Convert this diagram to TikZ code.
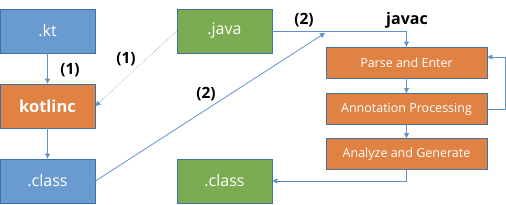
\documentclass[tikz,border=0pt]{standalone}
\usepackage{fontspec}
\setmainfont{Open Sans}
\usetikzlibrary{arrows.meta,calc}
\definecolor{bblue}{RGB}{106,155,208}
\definecolor{bgreen}{RGB}{124,172,82}
\definecolor{borange}{RGB}{224,130,68}
\definecolor{bline}{RGB}{65,113,156}
\definecolor{conn}{RGB}{98,146,206}
\begin{document}
\begin{tikzpicture}[x=1pt,y=-1pt,
  box/.style={draw=bline,line width=0.9pt,text=white,minimum width=95pt,minimum height=44pt,inner sep=0pt,font=\fontsize{16}{18}\selectfont},
  bluebox/.style={box,fill=bblue},
  greenbox/.style={box,fill=bgreen},
  stepbox/.style={draw=bline,line width=0.9pt,fill=borange,text=white,minimum width=161pt,minimum height=31pt,inner sep=0pt,font=\fontsize{12.5}{14}\selectfont},
  conn/.style={draw=conn,line width=0.8pt,-{Triangle[length=5pt,width=5pt]}},
  lbl/.style={font=\fontsize{15.5}{17}\selectfont\bfseries,text=black}
]
\useasboundingbox (0,0) rectangle (506,204);
\node[bluebox] (kt) at (47.5,31) {.kt};
\node[box,fill=borange,font=\fontsize{16.5}{18}\selectfont\bfseries] (kotlinc) at (47.5,106) {kotlinc};
\node[bluebox] (classL) at (47.5,181) {.class};
\node[greenbox] (java) at (224.5,31) {.java};
\node[greenbox] (classR) at (224.5,181) {.class};
\node[stepbox] (parse) at (406.5,62.5) {Parse and Enter};
\node[stepbox] (annot) at (406.5,109) {Annotation Processing};
\node[stepbox] (anal) at (406.5,154) {Analyze and Generate};
\coordinate (tip) at (325,33);

\node[lbl] (l1a) at (70,70) {(1)};
\node[lbl] (l1b) at (126,59) {(1)};
\node[lbl] (l2a) at (304,20) {(2)};
\node[lbl] (l2b) at (206,94) {(2)};
\node[lbl,font=\fontsize{16}{18}\selectfont\bfseries] (javac) at (407,20) {javac};

\draw[conn] (kt) -- (kotlinc);
\draw[conn] (kotlinc) -- (classL);
\draw[conn,line width=0.5pt,densely dotted] (java.west) -- (kotlinc.east);
\draw[conn] (classL.east) -- (tip);
\draw[conn] (java.east) -| (parse.north);
\draw[conn] (parse) -- (annot);
\draw[conn] (annot) -- (anal);
\draw[conn] (annot.east) -- ++(18,0) |- ([yshift=5.5pt]parse.east);
\draw[conn] (anal.south) |- (classR.east);
\end{tikzpicture}
\end{document}
